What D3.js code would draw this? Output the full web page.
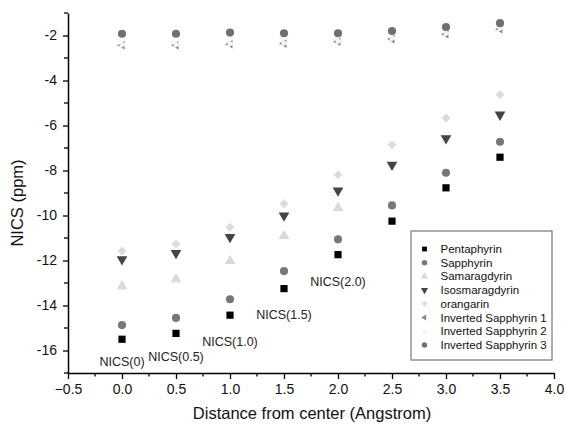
<!DOCTYPE html>
<html>
<head>
<meta charset="utf-8">
<script src="https://cdn.jsdelivr.net/npm/d3@7"></script>
<style>
  body { margin: 0; background: #fff; }
  text { font-family: "Liberation Sans", Arial, sans-serif; }
</style>
</head>
<body>
<div id="chart"></div>
<script>
// Set SVG area
var svgWidth = 566;
var svgHeight = 426;

// plot area edges (pixels)
var margin = { top: 13, right: 12, bottom: 53, left: 68 };
var width = svgWidth - margin.left - margin.right;
var height = svgHeight - margin.top - margin.bottom;

// distances from ring center (Angstrom)
var distances = [0, 0.5, 1.0, 1.5, 2.0, 2.5, 3.0, 3.5];

// NICS values (ppm)
var pentaphyrin = [-15.50, -15.24, -14.43, -13.25, -11.74, -10.25, -8.77, -7.41];
var sapphyrin = [-14.87, -14.55, -13.72, -12.47, -11.06, -9.55, -8.10, -6.72];
var samaragdyrin = [-13.14, -12.83, -12.02, -10.91, -9.66];
var isosmaragdyrin = [-11.95, -11.67, -10.96, -10.00, -8.89, -7.75, -6.57, -5.52];
var orangarin = [-11.58, -11.28, -10.52, -9.48, -8.19, -6.86, -5.67, -4.63];
var invSapphyrin1 = [-2.43, -2.43, -2.39, -2.36, -2.28, -2.16, -1.94, -1.72];
var invSapphyrin2 = [-2.40, -2.40, -2.37, -2.33, -2.25, -2.12, -1.90, -1.68];
var invSapphyrin3 = [-1.92, -1.92, -1.87, -1.90, -1.90, -1.80, -1.62, -1.45];

var seriesNames = ["Pentaphyrin", "Sapphyrin", "Samaragdyrin", "Isosmaragdyrin", "orangarin",
  "Inverted Sapphyrin 1", "Inverted Sapphyrin 2", "Inverted Sapphyrin 3"];
var seriesValues = [pentaphyrin, sapphyrin, samaragdyrin, isosmaragdyrin, orangarin,
  invSapphyrin1, invSapphyrin2, invSapphyrin3];

// annotation labels (data units)
var nicsLabels = ["NICS(0)", "NICS(0.5)", "NICS(1.0)", "NICS(1.5)", "NICS(2.0)"];
var nicsLabelX = [0, 0.5, 1.0, 1.5, 2.0];
var nicsLabelY = [-16.68, -16.45, -15.79, -14.61, -13.14];

// tick values
var xTicks = [-0.5, 0.0, 0.5, 1.0, 1.5, 2.0, 2.5, 3.0, 3.5, 4.0];
var yTicks = [-16, -14, -12, -10, -8, -6, -4, -2];

// marker styling per series
var markerStyle = [
  { shape: d3.symbolSquare, rot: 0, size: 52, color: "#000000" },
  { shape: d3.symbolCircle, rot: 0, size: 52, color: "#777777" },
  { shape: d3.symbolTriangle, rot: 0, size: 50, color: "#d9d9d9" },
  { shape: d3.symbolTriangle, rot: 180, size: 50, color: "#444444" },
  { shape: d3.symbolSquare, rot: 45, size: 40, color: "#dcdcdc" },
  { shape: d3.symbolTriangle, rot: -90, size: 32, color: "#888888" },
  { shape: d3.symbolTriangle, rot: 90, size: 32, color: "#f3f3f3" },
  { shape: d3.symbolCircle, rot: 0, size: 52, color: "#707070" }
];

var svg = d3.select("#chart")
  .append("svg")
  .attr("width", svgWidth)
  .attr("height", svgHeight);

var chartGroup = svg.append("g")
  .attr("transform", `translate(${margin.left}, ${margin.top})`);

var xScale = d3.scaleLinear().domain([-0.5, 4.0]).range([0, width]);
var yScale = d3.scaleLinear().domain([-17, -1]).range([height, 0]);

// minor ticks
var xMinor = d3.range(-0.25, 4.0, 0.5);
var yMinor = d3.range(-17, 0, 2);

var bottomAxis = d3.axisBottom(xScale).tickValues(xTicks).tickFormat(d3.format(".1f"))
  .tickSizeInner(6).tickSizeOuter(0).tickPadding(5);
var leftAxis = d3.axisLeft(yScale).tickValues(yTicks).tickFormat(d => String(d))
  .tickSizeInner(5).tickSizeOuter(0).tickPadding(6);

var xAxis = chartGroup.append("g")
  .attr("transform", `translate(0, ${height})`)
  .call(bottomAxis);
var yAxis = chartGroup.append("g").call(leftAxis);

[xAxis, yAxis].forEach(function(ax) {
  ax.select(".domain").attr("stroke", "#000").attr("stroke-width", 1.5);
  ax.selectAll(".tick line").attr("stroke", "#000").attr("stroke-width", 1.3);
  ax.selectAll(".tick text").attr("font-size", 14).attr("fill", "#111")
    .attr("font-family", "'Liberation Sans', Arial, sans-serif");
});
xAxis.selectAll(".tick text").attr("dy", "0.71em");

// minor tick marks
xAxis.selectAll(".minor").data(xMinor).enter().append("line")
  .attr("x1", d => xScale(d)).attr("x2", d => xScale(d))
  .attr("y1", 0).attr("y2", 3.5)
  .attr("stroke", "#000").attr("stroke-width", 1.3);
yAxis.selectAll(".minor").data(yMinor).enter().append("line")
  .attr("y1", d => yScale(d)).attr("y2", d => yScale(d))
  .attr("x1", 0).attr("x2", -4)
  .attr("stroke", "#000").attr("stroke-width", 1.3);

// axis titles
chartGroup.append("text")
  .attr("x", width / 2 + 1)
  .attr("y", height + 46)
  .attr("text-anchor", "middle")
  .attr("font-size", 16.5)
  .attr("fill", "#111")
  .text("Distance from center (Angstrom)");

chartGroup.append("text")
  .attr("transform", "rotate(-90)")
  .attr("x", -(190))
  .attr("y", -45)
  .attr("text-anchor", "middle")
  .attr("font-size", 16.5)
  .attr("fill", "#111")
  .text("NICS (ppm)");

// markers
seriesValues.forEach(function(values, i) {
  var st = markerStyle[i];
  var sym = d3.symbol().type(st.shape).size(st.size);
  chartGroup.append("g")
    .selectAll("path")
    .data(values)
    .enter()
    .append("path")
    .attr("d", sym)
    .attr("transform", (d, j) => `translate(${xScale(distances[j])}, ${yScale(d)}) rotate(${st.rot})`)
    .attr("fill", st.color);
});

// NICS annotations
chartGroup.selectAll(".nics")
  .data(nicsLabels)
  .enter()
  .append("text")
  .attr("x", (d, i) => xScale(nicsLabelX[i]))
  .attr("y", (d, i) => yScale(nicsLabelY[i]))
  .attr("text-anchor", "middle")
  .attr("font-size", 12.5)
  .attr("fill", "#222")
  .text(d => d);

// legend
var legend = svg.append("g").attr("transform", "translate(411, 231)");
legend.append("rect")
  .attr("width", 141).attr("height", 129)
  .attr("fill", "#fff")
  .attr("stroke", "#777").attr("stroke-width", 1.2);

seriesNames.forEach(function(name, i) {
  var st = markerStyle[i];
  var row = legend.append("g").attr("transform", `translate(0, ${18 + i * 13.7})`);
  row.append("path")
    .attr("d", d3.symbol().type(st.shape).size(st.size * 0.45))
    .attr("transform", `translate(13.5, 0) rotate(${st.rot})`)
    .attr("fill", st.color);
  row.append("text")
    .attr("x", 29.5)
    .attr("y", 4)
    .attr("font-size", 11.5)
    .attr("fill", "#111")
    .text(name);
});
</script>
</body>
</html>
